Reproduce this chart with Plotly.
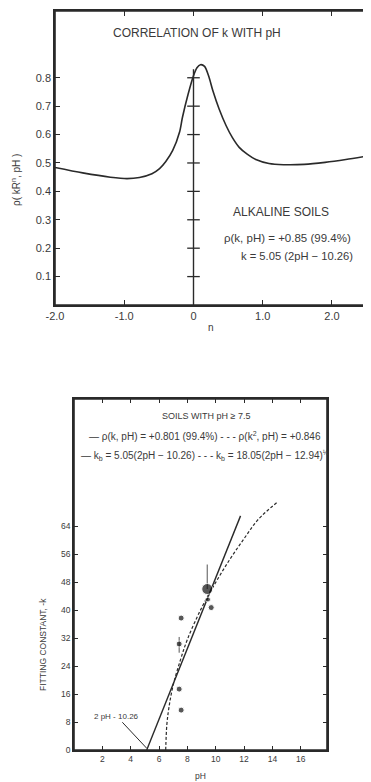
import plotly.graph_objects as go

# ---------- Top panel data: correlation of k with pH vs exponent n ----------
n_vals = [-2.0, -1.6, -1.2, -0.96, -0.78, -0.6, -0.49, -0.4, -0.3, -0.2, -0.16, -0.08,
          0.0, 0.05, 0.10, 0.16, 0.22, 0.28, 0.37, 0.47, 0.56, 0.66, 0.78, 0.9,
          1.09, 1.3, 1.6, 1.9, 2.2, 2.55]
rho_vals = [0.484, 0.465, 0.450, 0.445, 0.449, 0.462, 0.480, 0.505, 0.544, 0.61, 0.66, 0.74,
            0.807, 0.835, 0.846, 0.84, 0.805, 0.754, 0.69, 0.632, 0.59, 0.555, 0.53, 0.512,
            0.498, 0.494, 0.495, 0.502, 0.512, 0.526]
top_yticks = [0.1, 0.2, 0.3, 0.4, 0.5, 0.6, 0.7, 0.8]
top_xticks = [-2, -1, 0, 1, 2]
top_xticktext = ["-2.0", "-1.0", "0", "1.0", "2.0"]
vline_top = 0.83

# ---------- Bottom panel data: fitting constant vs pH ----------
lin_ph = [5.13, 11.75]
lin_k = [0.0, 66.9]
sqrt_ph = [6.47, 6.55, 6.7, 7.0, 7.5, 8.0, 9.0, 10.0, 11.0, 12.0, 13.0, 14.4]
sqrt_k = [0.0, 7.2, 12.2, 18.6, 25.6, 31.6, 40.6, 47.9, 54.5, 60.4, 65.9, 71.0]
pts_ph = [7.42, 7.56, 7.42, 7.56, 9.40, 9.45, 9.68]
pts_k = [30.3, 37.7, 17.4, 11.4, 46.0, 43.0, 40.7]
pts_size = [6, 6, 6, 6, 11, 5, 6]
pts_err_plus = [2.0, 0, 0, 0, 7.0, 0, 0]
pts_err_minus = [2.5, 0, 0, 0, 0, 0, 0]
bot_xticks = [2, 4, 6, 8, 10, 12, 14, 16]
bot_yticks = [0, 8, 16, 24, 32, 40, 48, 56, 64]

INK = "#2a2a2a"
TXT = "#3a3a3a"
FONT = "Liberation Sans"

# the page body adds an 8px margin; positions below are window pixels, shifted accordingly
OFF = 8
W, H = 371, 782
def px(x):
    return (x - OFF) / W
def py(y):
    return 1 - (y - OFF) / H

TOP_L, TOP_R, TOP_T, TOP_B = 55, 368, 11, 305
BOT_L, BOT_R, BOT_T, BOT_B = 74, 327, 399, 750

fig = go.Figure()

# top curve
fig.add_trace(go.Scatter(x=n_vals, y=rho_vals, mode="lines", line=dict(color=INK, width=1.6, shape="spline", smoothing=0.8),
                         xaxis="x", yaxis="y", showlegend=False, hoverinfo="skip"))
# vertical axis at n = 0 with crossing ticks
fig.add_trace(go.Scatter(x=[0, 0], y=[0, vline_top], mode="lines", line=dict(color=INK, width=1.4),
                         xaxis="x", yaxis="y", showlegend=False, hoverinfo="skip"))
fig.add_trace(go.Scatter(x=[0] * len(top_yticks), y=top_yticks, mode="markers",
                         marker=dict(symbol="line-ew-open", size=9, color=INK, line=dict(color=INK, width=1.3)),
                         xaxis="x", yaxis="y", showlegend=False, hoverinfo="skip"))

# bottom lines
fig.add_trace(go.Scatter(x=lin_ph, y=lin_k, mode="lines", line=dict(color=INK, width=1.4),
                         xaxis="x2", yaxis="y2", showlegend=False, hoverinfo="skip"))
fig.add_trace(go.Scatter(x=sqrt_ph, y=sqrt_k, mode="lines", line=dict(color=INK, width=1.2, dash="3px,2px", shape="spline"),
                         xaxis="x2", yaxis="y2", showlegend=False, hoverinfo="skip"))
fig.add_trace(go.Scatter(x=pts_ph, y=pts_k, mode="markers",
                         marker=dict(symbol="circle", size=pts_size, color="#111"),
                         error_y=dict(type="data", array=pts_err_plus, arrayminus=pts_err_minus, symmetric=False,
                                      color="#555", thickness=1, width=0),
                         xaxis="x2", yaxis="y2", showlegend=False, hoverinfo="skip"))

axis_common = dict(showline=True, linecolor=INK, linewidth=1.6, mirror="allticks", ticks="inside",
                   tickcolor=INK, showgrid=False, zeroline=False, automargin=False,
                   tickfont=dict(family=FONT, size=11, color=TXT))

fig.update_layout(
    width=W, height=H,
    margin=dict(l=0, r=0, t=0, b=0, pad=0, autoexpand=False),
    paper_bgcolor="white", plot_bgcolor="white",
    xaxis=dict(axis_common, domain=[px(TOP_L), px(TOP_R)], range=[-2.0, 2.52], anchor="y",
               tickvals=top_xticks, ticktext=top_xticktext, ticklen=5, tickwidth=1.3),
    yaxis=dict(axis_common, domain=[py(TOP_B), py(TOP_T)], range=[0, 1.035], anchor="x",
               tickvals=top_yticks, ticktext=[f"{v:.1f}" for v in top_yticks], ticklen=5, tickwidth=1.3),
    xaxis2=dict(axis_common, domain=[px(BOT_L), px(BOT_R)], range=[0, 17.85], anchor="y2",
                tickvals=bot_xticks, ticktext=[str(v) for v in bot_xticks], ticklen=4, tickwidth=1.2,
                tickfont=dict(family=FONT, size=8.5, color=TXT)),
    yaxis2=dict(axis_common, domain=[py(BOT_B), py(BOT_T)], range=[0, 100.3], anchor="x2",
                tickvals=bot_yticks, ticktext=[str(v) for v in bot_yticks], ticklen=4, tickwidth=1.2,
                tickfont=dict(family=FONT, size=8.5, color=TXT)),
)

# panel frames drawn in paper coordinates as well, so they are never lost
for l, r, t, b in ((TOP_L, TOP_R, TOP_T, TOP_B), (BOT_L, BOT_R, BOT_T, BOT_B)):
    fig.add_shape(type="rect", xref="paper", yref="paper", x0=px(l), x1=px(r), y0=py(b), y1=py(t),
                  line=dict(color=INK, width=1.6), fillcolor="rgba(0,0,0,0)", layer="above")

ann = []
def txt(x, y, s, size, **kw):
    ann.append(dict(x=px(x), y=py(y), xref="paper", yref="paper", text=s, showarrow=False,
                    xanchor="center", yanchor="middle",
                    font=dict(family=FONT, size=size, color=TXT), **kw))

# top panel texts
txt(197, 33, "CORRELATION OF k WITH pH", 12)
txt(281, 212, "ALKALINE SOILS", 12)
txt(287, 238, "ρ(k, pH) = +0.85 (99.4%)", 11.5)
txt(297, 256, "k = 5.05 (2pH − 10.26)", 11.2)
txt(211, 327, "n", 10)
txt(16, 180, "ρ( kR<sup>n</sup>, pH )", 10, textangle=-90)

# bottom panel texts
txt(206, 416, "SOILS WITH pH ≥ 7.5", 9)
txt(205, 436, "— ρ(k, pH) = +0.801 (99.4%) - - - ρ(k<sup>2</sup>, pH) = +0.846", 10)
txt(205, 455, "— k<sub>b</sub> = 5.05(2pH − 10.26) - - - k<sub>b</sub> = 18.05(2pH − 12.94)<sup>½</sup>", 10)
txt(200, 776, "pH", 8.5)
txt(43, 645, "FITTING CONSTANT, -k", 8.5, textangle=-90)

ann.append(dict(x=lin_ph[0], y=0.5, xref="x2", yref="y2", text="2 pH - 10.26", showarrow=True,
                arrowhead=0, arrowwidth=1, arrowcolor=INK, ax=-30, ay=-32,
                font=dict(family=FONT, size=8, color=TXT)))

fig.update_layout(annotations=ann)
fig.write_html("out.html")
